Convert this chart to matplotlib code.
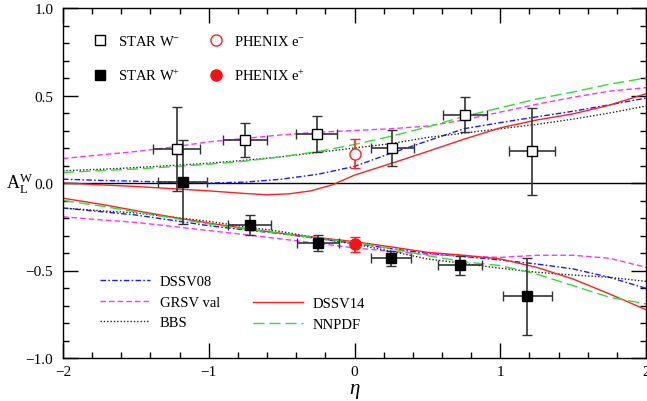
import numpy as np
import matplotlib
matplotlib.use("Agg")
import matplotlib.pyplot as plt
from matplotlib.lines import Line2D
from matplotlib.ticker import MultipleLocator

plt.rcParams['font.family'] = ['Liberation Serif', 'DejaVu Serif']
plt.rcParams['mathtext.fontset'] = 'custom'
plt.rcParams['mathtext.rm'] = 'Liberation Serif'
plt.rcParams['mathtext.it'] = 'Liberation Serif:italic'

# ---------------- data ----------------
eta = [-2, -1.75, -1.5, -1.25, -1, -0.75, -0.5, -0.25, 0, 0.25, 0.5, 0.75, 1, 1.25, 1.5, 1.75, 2]

# W- curves (upper)
dssv08_m = [0.022, 0.015, 0.010, 0.004, 0.000, 0.005, 0.022, 0.050, 0.095, 0.170, 0.240, 0.310, 0.345, 0.378, 0.410, 0.447, 0.485]
grsv_m   = [0.140, 0.160, 0.180, 0.205, 0.235, 0.255, 0.275, 0.290, 0.300, 0.310, 0.325, 0.360, 0.405, 0.450, 0.490, 0.525, 0.545]
bbs_m    = [0.070, 0.078, 0.088, 0.100, 0.113, 0.130, 0.150, 0.175, 0.200, 0.225, 0.260, 0.285, 0.310, 0.335, 0.365, 0.400, 0.440]
nnpdf_m  = [0.060, 0.070, 0.080, 0.093, 0.107, 0.125, 0.150, 0.180, 0.220, 0.267, 0.320, 0.380, 0.430, 0.480, 0.520, 0.565, 0.600]
eta_d14m = [-2, -1.5, -1, -0.75, -0.6, -0.45, -0.3, -0.15, 0, 0.15, 0.3, 0.5, 0.75, 1, 1.25, 1.5, 1.75, 2]
dssv14_m = [0.000, -0.020, -0.045, -0.060, -0.067, -0.062, -0.045, -0.010, 0.045, 0.085, 0.125, 0.180, 0.250, 0.315, 0.360, 0.395, 0.445, 0.510]

# W+ curves (lower)
dssv08_p = [-0.143, -0.163, -0.183, -0.213, -0.244, -0.268, -0.290, -0.318, -0.345, -0.375, -0.402, -0.420, -0.440, -0.463, -0.491, -0.539, -0.602]
grsv_p   = [-0.193, -0.210, -0.225, -0.248, -0.272, -0.295, -0.320, -0.345, -0.371, -0.390, -0.408, -0.418, -0.425, -0.413, -0.413, -0.430, -0.482]
bbs_p    = [-0.143, -0.158, -0.171, -0.195, -0.219, -0.250, -0.278, -0.315, -0.349, -0.390, -0.434, -0.460, -0.487, -0.510, -0.526, -0.539, -0.562]
dssv14_p = [-0.087, -0.120, -0.158, -0.195, -0.229, -0.260, -0.288, -0.312, -0.335, -0.365, -0.396, -0.413, -0.434, -0.482, -0.549, -0.634, -0.724]
nnpdf_p  = [-0.100, -0.130, -0.165, -0.200, -0.234, -0.263, -0.290, -0.315, -0.340, -0.375, -0.415, -0.450, -0.472, -0.520, -0.587, -0.653, -0.691]

# STAR W- data
starm_eta  = [-1.22, -0.75, -0.26, 0.26, 0.76, 1.22]
starm_al   = [0.194, 0.246, 0.280, 0.202, 0.390, 0.182]
starm_xerr = [0.16, 0.15, 0.14, 0.15, 0.15, 0.157]
starm_yerr = [0.24, 0.097, 0.103, 0.103, 0.10, 0.248]

# STAR W+ data
starp_eta  = [-1.18, -0.72, -0.25, 0.25, 0.726, 1.186]
starp_al   = [0.007, -0.242, -0.343, -0.430, -0.471, -0.648]
starp_xerr = [0.17, 0.15, 0.145, 0.14, 0.15, 0.168]
starp_yerr = [0.24, 0.057, 0.045, 0.042, 0.052, 0.22]

# PHENIX data
phm_eta, phm_al, phm_err = [0.0], [0.167], [0.082]
php_eta, php_al, php_err = [0.0], [-0.350], [0.042]

xticks = [-2, -1, 0, 1, 2]
xticklabels = ['\u22122', '\u22121', '0', '1', '2']
yticks = [-1, -0.5, 0, 0.5, 1]
yticklabels = ['\u22121.0', '\u22120.5', '0.0', '0.5', '1.0']

# ---------------- figure ----------------
fig = plt.figure(figsize=(6.47, 4.02), dpi=100)
ax = fig.add_axes([63/647, 43/402, 583/647, 350/402])

ax.axhline(0, color='black', lw=1.0, zorder=1)

ls_dssv08 = (0, (4, 1.6, 1.2, 1.6))
ls_grsv = (0, (4, 2.2))
ls_bbs = (0, (1, 1.4))
ls_nnpdf = (0, (8, 3.5))
c_d8, c_gr, c_bb, c_d14, c_nn = '#1a1aff', '#ff33ff', '#222222', '#ff2020', '#33dd33'

kw = dict(lw=1.0, zorder=2)
ax.plot(eta, dssv08_m, color=c_d8, ls=ls_dssv08, **kw)
ax.plot(eta, grsv_m, color=c_gr, ls=ls_grsv, **kw)
ax.plot(eta, bbs_m, color=c_bb, ls=ls_bbs, **kw)
ax.plot(eta_d14m, dssv14_m, color=c_d14, ls='-', **kw)
ax.plot(eta, nnpdf_m, color=c_nn, ls=ls_nnpdf, **kw)

ax.plot(eta, dssv08_p, color=c_d8, ls=ls_dssv08, **kw)
ax.plot(eta, grsv_p, color=c_gr, ls=ls_grsv, **kw)
ax.plot(eta, bbs_p, color=c_bb, ls=ls_bbs, **kw)
ax.plot(eta, dssv14_p, color=c_d14, ls='-', **kw)
ax.plot(eta, nnpdf_p, color=c_nn, ls=ls_nnpdf, **kw)

ecol = '#333333'
ax.errorbar(starm_eta, starm_al, xerr=starm_xerr, yerr=starm_yerr, fmt='s',
            ms=7, mfc='white', mec='black', mew=1.0, ecolor=ecol, elinewidth=1.2,
            capsize=3.8, capthick=1.2, zorder=4)
ax.errorbar(starp_eta, starp_al, xerr=starp_xerr, yerr=starp_yerr, fmt='s',
            ms=7, mfc='black', mec='black', mew=1.0, ecolor=ecol, elinewidth=1.2,
            capsize=3.8, capthick=1.2, zorder=4)
ax.errorbar(phm_eta, phm_al, yerr=phm_err, fmt='o', ms=8, mfc='white', mec='#ff2020',
            mew=1.0, ecolor='#ff2020', elinewidth=1.2, capsize=3.8, capthick=1.2, zorder=5)
ax.errorbar(php_eta, php_al, yerr=php_err, fmt='o', ms=8, mfc='#ff1010', mec='#ff1010',
            mew=1.0, ecolor='#ff2020', elinewidth=1.2, capsize=3.8, capthick=1.2, zorder=5)

ax.set_xlim(-2, 2)
ax.set_ylim(-1, 1)
ax.set_xticks(xticks)
ax.set_xticklabels(xticklabels)
ax.set_yticks(yticks)
ax.set_yticklabels(yticklabels)
ax.xaxis.set_minor_locator(MultipleLocator(0.2))
ax.yaxis.set_minor_locator(MultipleLocator(0.1))
ax.tick_params(which='both', direction='in', top=True, right=True, width=1.0, labelsize=11)
ax.tick_params(which='major', length=11)
ax.tick_params(which='minor', length=4)
ax.tick_params(axis='x', pad=5)
ax.tick_params(axis='y', pad=7)
for s in ax.spines.values():
    s.set_linewidth(1.0)

ax.set_xlabel(r'$\eta$', fontsize=15)
ax.xaxis.set_label_coords(0.5, -0.065)
ax.set_ylabel(r'$\mathrm{A}_\mathrm{L}^\mathrm{W}$', fontsize=13, rotation=0, va='center', ha='center')
ax.yaxis.set_label_coords(-43/583, 0.5)

# ---------------- legends ----------------
fs = 10.5
h_sm = Line2D([], [], ls='none', marker='s', ms=7, mfc='white', mec='black')
h_sp = Line2D([], [], ls='none', marker='s', ms=7, mfc='black', mec='black')
h_pm = Line2D([], [], ls='none', marker='o', ms=8, mfc='white', mec='#ff2020')
h_pp = Line2D([], [], ls='none', marker='o', ms=8, mfc='#ff1010', mec='#ff1010')

common = dict(frameon=False, fontsize=fs, borderpad=0, borderaxespad=0, loc='upper left')
legA = ax.legend([h_sm, h_sp], [r'STAR W$^{-}$', r'STAR W$^{+}$'], handlelength=1.0,
                 handletextpad=0.7, labelspacing=1.35,
                 bbox_to_anchor=((93-63)/583, (359-35)/350), **common)
ax.add_artist(legA)
legB = ax.legend([h_pm, h_pp], [r'PHENIX e$^{-}$', r'PHENIX e$^{+}$'], handlelength=1.0,
                 handletextpad=0.7, labelspacing=1.35,
                 bbox_to_anchor=((209-63)/583, (359-35)/350), **common)
ax.add_artist(legB)

h_d8 = Line2D([], [], color=c_d8, ls=ls_dssv08, lw=1.0)
h_gr = Line2D([], [], color=c_gr, ls=ls_grsv, lw=1.0)
h_bb = Line2D([], [], color=c_bb, ls=ls_bbs, lw=1.0)
h_d14 = Line2D([], [], color=c_d14, ls='-', lw=1.0)
h_nn = Line2D([], [], color=c_nn, ls=ls_nnpdf, lw=1.0)

legC = ax.legend([h_d8, h_gr, h_bb], ['DSSV08', 'GRSV val', 'BBS'], handlelength=3.4,
                 handletextpad=0.7, labelspacing=0.5,
                 bbox_to_anchor=((100-63)/583, (359-276)/350), **common)
ax.add_artist(legC)
legD = ax.legend([h_d14, h_nn], ['DSSV14', 'NNPDF'], handlelength=3.4,
                 handletextpad=0.7, labelspacing=0.5,
                 bbox_to_anchor=((253-63)/583, (359-298)/350), **common)

fig.savefig('out.png', dpi=100)
